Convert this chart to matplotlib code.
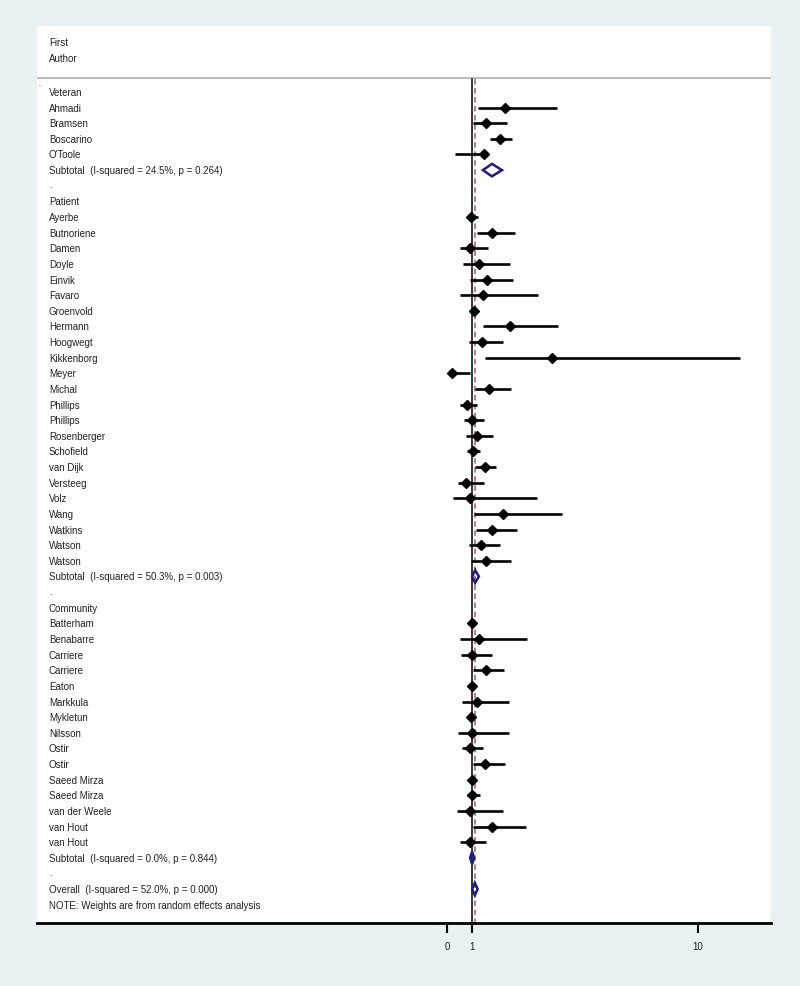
import matplotlib.pyplot as plt
from matplotlib.patches import Polygon

plt.rcParams['font.family'] = ['Liberation Sans', 'DejaVu Sans']

# study rows: (label, lower, estimate, upper)
veteran = ['Ahmadi', 'Bramsen', 'Boscarino', "O'Toole"]
veteran_lo = [1.24, 1.04, 1.71, 0.32]
veteran_est = [2.31, 1.55, 2.11, 1.47]
veteran_hi = [4.38, 2.39, 2.59, 1.63]

patient = ['Ayerbe', 'Butnoriene', 'Damen', 'Doyle', 'Einvik', 'Favaro', 'Groenvold',
           'Hermann', 'Hoogwegt', 'Kikkenborg', 'Meyer', 'Michal', 'Phillips', 'Phillips',
           'Rosenberger', 'Schofield', 'van Dijk', 'Versteeg', 'Volz', 'Wang', 'Watkins',
           'Watson', 'Watson']
patient_lo = [0.84, 1.20, 0.52, 0.64, 0.92, 0.52, 0.96, 1.43, 0.88, 1.51, 0.04, 1.12,
              0.52, 0.68, 0.76, 0.80, 1.12, 0.44, 0.24, 1.08, 1.16, 0.88, 0.96]
patient_est = [0.96, 1.79, 0.92, 1.27, 1.59, 1.43, 1.08, 2.51, 1.39, 4.18, 0.20, 1.67,
               0.80, 1.00, 1.20, 1.04, 1.51, 0.76, 0.92, 2.23, 1.79, 1.35, 1.55]
patient_hi = [1.24, 2.71, 1.63, 2.51, 2.63, 3.63, 1.24, 4.42, 2.23, 11.67, 0.92, 2.55,
              1.20, 1.47, 1.83, 1.31, 1.95, 1.47, 3.59, 4.58, 2.79, 2.11, 2.55]

community = ['Batterham', 'Benabarre', 'Carriere', 'Carriere', 'Eaton', 'Markkula',
             'Mykletun', 'Nilsson', 'Ostir', 'Ostir', 'Saeed Mirza', 'Saeed Mirza',
             'van der Weele', 'van Hout', 'van Hout']
community_lo = [0.92, 0.52, 0.56, 1.04, 0.92, 0.60, 0.88, 0.44, 0.60, 1.04, 0.96, 0.80,
                0.40, 1.04, 0.52]
community_est = [1.00, 1.27, 1.00, 1.55, 1.00, 1.20, 0.96, 1.00, 0.92, 1.51, 1.00, 1.00,
                 0.92, 1.79, 0.92]
community_hi = [1.08, 3.19, 1.79, 2.27, 1.08, 2.47, 1.04, 2.47, 1.43, 2.31, 1.04, 1.31,
                2.23, 3.15, 1.55]

groups = ['Veteran', 'Patient', 'Community']
subtotal_text = ['Subtotal  (I-squared = 24.5%, p = 0.264)',
                 'Subtotal  (I-squared = 50.3%, p = 0.003)',
                 'Subtotal  (I-squared = 0.0%, p = 0.844)']
subtotal_lo = [1.43, 1.00, 0.92]
subtotal_est = [1.79, 1.12, 1.00]
subtotal_hi = [2.19, 1.27, 1.08]

overall_text = 'Overall  (I-squared = 52.0%, p = 0.000)'
overall = (1.00, 1.11, 1.22)
note_text = 'NOTE: Weights are from random effects analysis'

xticks = [0, 1, 10]

bg = '#e9f1f3'
navy = '#1c1c84'

fig = plt.figure(figsize=(8, 9.87), dpi=100)
fig.patch.set_facecolor(bg)

# panel spans px 37..771 horizontally, 27..924 vertically
ax = fig.add_axes([37 / 800, 1 - 924 / 987, (771 - 37) / 800, (924 - 27) / 987])
ax.set_facecolor('white')
x_lo = (37 - 447) / 25.1
x_hi = (771 - 447) / 25.1
ax.set_xlim(x_lo, x_hi)
ax.set_ylim(53.17, -4.22)
for s in ['top', 'left', 'right']:
    ax.spines[s].set_visible(False)
ax.spines['bottom'].set_linewidth(2)
ax.set_yticks([])
ax.set_xticks(xticks)
ax.set_xticklabels([str(t) for t in xticks], fontsize=7, color='#222222')
ax.tick_params(axis='x', direction='out', length=7, width=1.5, pad=6)

tx = ax.get_yaxis_transform()
lab_x = 0.0163
fs = 7


def label(y, s):
    ax.text(lab_x, y, s, transform=tx, fontsize=fs, va='center', ha='left', color='#222222')


def study(y, lo, est, hi):
    ax.plot([lo, hi], [y, y], color='black', lw=1.9, solid_capstyle='butt', zorder=3)
    ax.plot(est, y, marker='D', color='black', markersize=5, zorder=4)


def diamond(y, lo, est, hi):
    d = Polygon([[lo, y], [est, y - 0.4], [hi, y], [est, y + 0.4]], closed=True,
                facecolor='none', edgecolor=navy, lw=1.8, zorder=4)
    ax.add_patch(d)


label(-3.2, 'First')
label(-2.2, 'Author')
ax.axhline(-0.9, color='#bdbdbd', lw=1.5)
ax.text(0.002, -0.55, '.', transform=tx, fontsize=5, va='center')

lists = [(veteran, veteran_lo, veteran_est, veteran_hi),
         (patient, patient_lo, patient_est, patient_hi),
         (community, community_lo, community_est, community_hi)]
y = 0
for g, (names, lo, est, hi) in enumerate(lists):
    label(y, groups[g])
    y += 1
    for i in range(len(names)):
        label(y, names[i])
        study(y, lo[i], est[i], hi[i])
        y += 1
    label(y, subtotal_text[g])
    diamond(y, subtotal_lo[g], subtotal_est[g], subtotal_hi[g])
    y += 1
    label(y - 0.1, '.')
    y += 1

label(y, overall_text)
diamond(y, *overall)
y += 1
label(y, note_text)

ax.plot([1, 1], [-0.8, 53.17], color='black', lw=1.1, zorder=2)
ax.plot([overall[1], overall[1]], [-0.8, 53.17], color='#b5707a', lw=1.3,
        ls=(0, (3, 2)), zorder=2)

fig.savefig('out.png', dpi=100, facecolor=bg)
